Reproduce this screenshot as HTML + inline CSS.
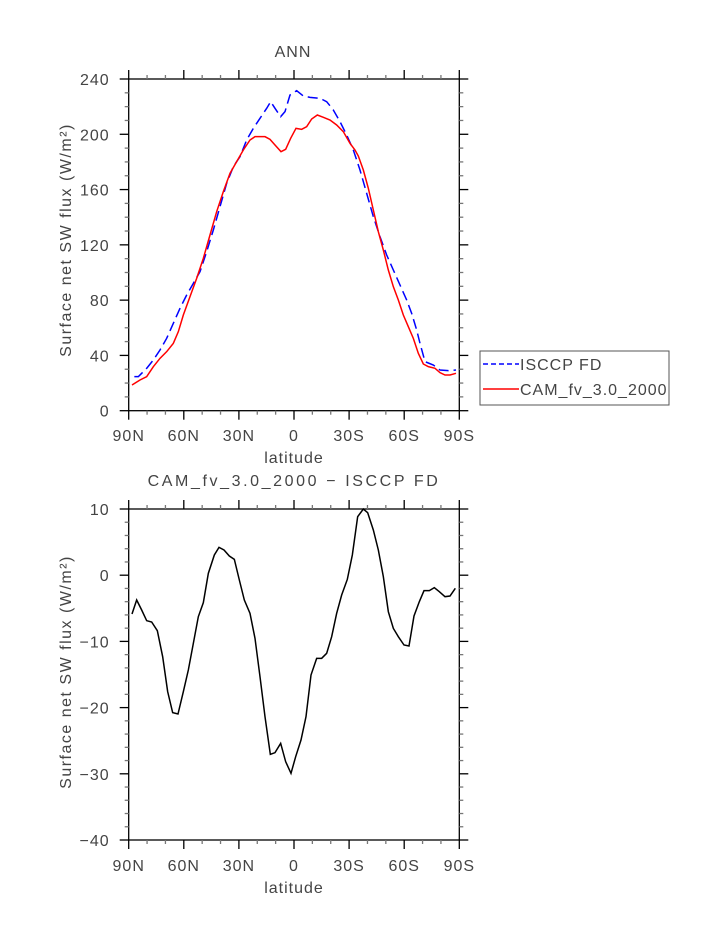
<!DOCTYPE html>
<html><head><meta charset="utf-8"><style>
body{margin:0;background:#fff}
svg{display:block}
text{font-family:"Liberation Sans",sans-serif;fill:#444;font-size:16px;letter-spacing:1px}
</style></head><body>
<svg id="s" width="723" height="935" xmlns="http://www.w3.org/2000/svg">
<text x="293" y="57" text-anchor="middle" font-size="18">ANN</text>
<text x="294" y="486" text-anchor="middle" font-size="21" style="letter-spacing:2.6px">CAM_fv_3.0_2000 − ISCCP FD</text>
<text transform="translate(71,240) rotate(-90)" text-anchor="middle" style="letter-spacing:1.5px">Surface net SW flux (W/m²)</text>
<text transform="translate(71,672) rotate(-90)" text-anchor="middle" style="letter-spacing:1.5px">Surface net SW flux (W/m²)</text>
<text x="294" y="463" text-anchor="middle">latitude</text>
<text x="294" y="893" text-anchor="middle">latitude</text>
<rect x="128.7" y="79" width="330.6" height="331.7" fill="none" stroke="#000" stroke-width="1.3"/>
<rect x="128.7" y="509" width="330.6" height="331" fill="none" stroke="#000" stroke-width="1.3"/>
<g id="ticks"></g>
<g transform="translate(100,60) scale(0.33333)" fill="none" stroke-width="4.5">
<polyline stroke="#0000ff" stroke-dasharray="30,15" points="103,950 115,950 140,925 160,900 180,870 200,835 220,790 240,745 260,705 280,670 300,635 320,575 340,510 360,440 380,370 400,320 420,290 440,240 460,205 480,175 500,145 512,125 525,145 542,170 555,155 570,105 590,92 610,108 630,112 660,115 680,125 700,150 720,185 740,225 760,270 780,330 800,400 820,470 840,530 860,585 880,630 900,675 920,720 935,760 950,810 960,850 975,905 1000,915 1020,930 1045,932 1068,930"/>
<polyline stroke="#ff0000" points="96,975 120,960 140,950 160,920 180,895 200,875 220,850 235,815 250,765 270,710 290,655 310,595 330,525 350,455 370,395 390,340 410,305 430,270 450,240 465,230 495,230 510,238 525,255 543,275 557,268 572,235 588,205 605,208 620,200 635,177 652,165 670,172 690,180 710,195 730,215 750,250 765,270 775,288 790,330 805,385 820,450 835,515 850,570 865,630 880,680 895,720 910,765 925,800 940,835 955,880 970,912 985,920 1005,925 1020,938 1035,945 1050,945 1068,940"/>
</g>
<g transform="translate(100,490) scale(0.33333)" fill="none" stroke-width="4.5">
<polyline stroke="#000" points="96,372 110,330 125,360 140,392 155,396 172,422 188,500 203,605 218,668 234,672 250,605 265,540 280,460 295,380 310,338 325,250 343,195 357,172 372,180 388,198 403,208 418,270 433,330 450,370 465,445 480,560 495,680 511,793 525,788 542,760 557,815 573,850 587,800 603,750 618,680 633,555 650,505 665,505 680,490 695,440 710,370 725,315 742,268 757,195 773,80 790,57 803,68 820,120 835,180 850,260 865,365 880,415 895,440 912,465 927,468 942,378 958,335 972,302 988,302 1003,293 1018,305 1035,320 1050,318 1066,295"/>
</g>
<rect x="480" y="351" width="189" height="54" fill="none" stroke="#555" stroke-width="1"/>
<line x1="483" y1="364" x2="519" y2="364" stroke="#0000ff" stroke-width="1.5" stroke-dasharray="5,3"/>
<line x1="483" y1="389" x2="519" y2="389" stroke="#ff0000" stroke-width="1.5"/>
<text x="520" y="370">ISCCP FD</text>
<text x="520" y="395">CAM_fv_3.0_2000</text>
</svg>
<script>
var g=document.getElementById('ticks'),out='';
function L(x1,y1,x2,y2,c){out+='<line x1="'+x1+'" y1="'+y1+'" x2="'+x2+'" y2="'+y2+'" stroke="'+c+'" stroke-width="1.3"/>';}
function T(x,y,s,a){out+='<text x="'+x+'" y="'+y+'" text-anchor="'+a+'">'+s+'</text>';}
var X0=128.7,X1=459.3,dx=(X1-X0)/18,xl=['90N','60N','30N','0','30S','60S','90S'];
function plot(yt,yb,vmax,vmin,maj,mn,xly){
 for(var i=0;i<=18;i++){var x=X0+i*dx,M=i%3==0,l=M?9:4,c=M?'#000':'#777';
  L(x,yb,x,yb+l,c);L(x,yt,x,yt-l,c);
  if(M)T(x,xly,xl[i/3],'middle');}
 var n=Math.round((vmax-vmin)/mn);
 for(var j=0;j<=n;j++){var v=vmin+j*mn,y=yb-(v-vmin)/(vmax-vmin)*(yb-yt),M=Math.abs(v%maj)<1e-6,l=M?9:4,c=M?'#000':'#777';
  L(X0,y,X0-l,y,c);L(X1,y,X1+l,y,c);
  if(M)T(X0-19,y+6,(v<0?'−'+(-v):v),'end');}
}
plot(79,410.7,240,0,40,10,441);
plot(509,840,10,-40,10,2,871);
g.innerHTML=out;
</script>
</body></html>
